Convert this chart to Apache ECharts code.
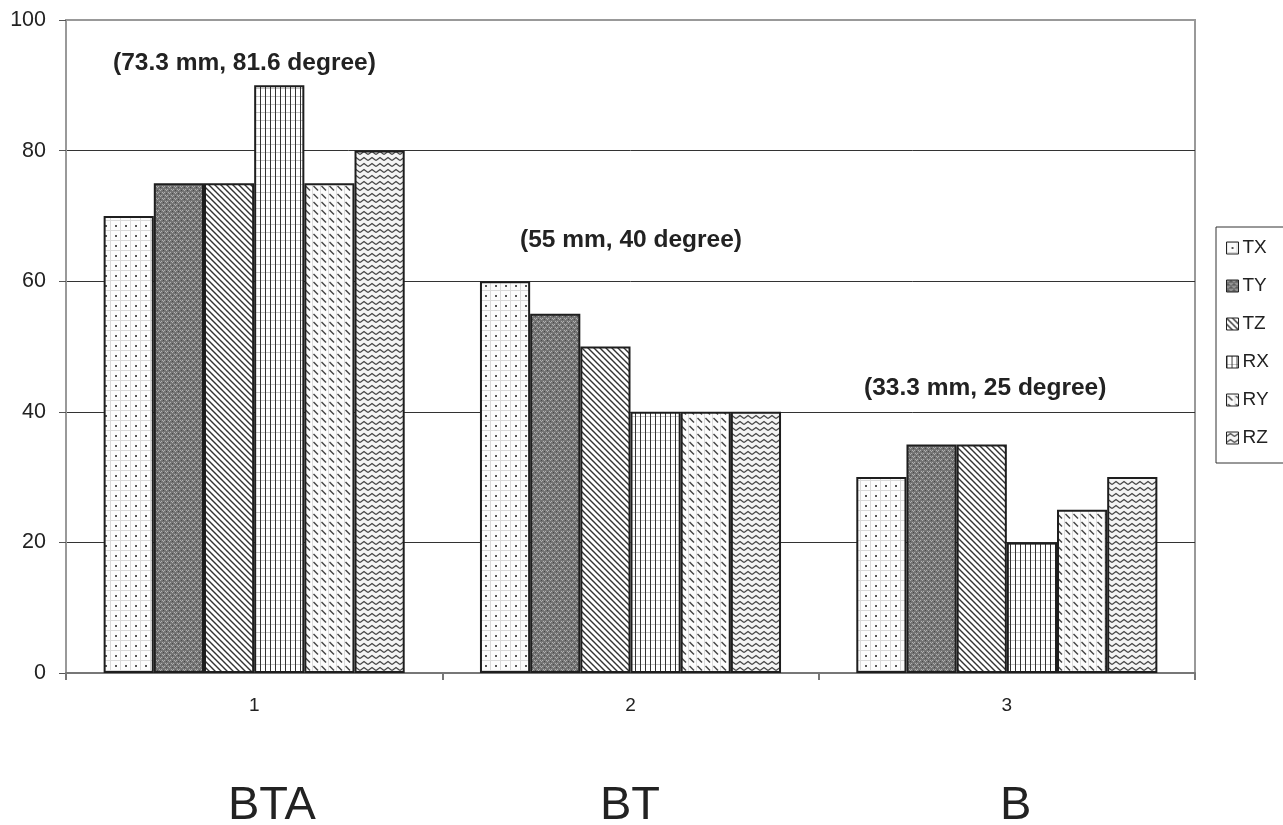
<!DOCTYPE html>
<html>
<head>
<meta charset="utf-8">
<script src="https://cdn.jsdelivr.net/npm/echarts@6/dist/echarts.min.js"></script>
<style>
html,body{margin:0;padding:0;background:#fff;}
#chart{width:1283px;height:825px;}
</style>
</head>
<body>
<div id="chart"></div>
<script>
// ---- data ----
const categories = ['1', '2', '3'];
const groupNames = ['BTA', 'BT', 'B'];
const seriesNames = ['TX', 'TY', 'TZ', 'RX', 'RY', 'RZ'];
const TX = [70, 60, 30];
const TY = [75, 55, 35];
const TZ = [75, 50, 35];
const RX = [90, 40, 20];
const RY = [75, 40, 25];
const RZ = [80, 40, 30];
const annotations = ['(73.3 mm, 81.6 degree)', '(55 mm, 40 degree)', '(33.3 mm, 25 degree)'];
const yTicks = [0, 20, 40, 60, 80, 100];

const FONT = "'Liberation Sans', Arial, sans-serif";

// ---- patterns ----
function tile(w, h, draw) {
  const c = document.createElement('canvas');
  c.width = w; c.height = h;
  const g = c.getContext('2d');
  draw(g, w, h);
  return { image: c, repeat: 'repeat' };
}
const patTX = tile(10, 10, (g, w, h) => {
  g.fillStyle = '#fbfbfb'; g.fillRect(0, 0, w, h);
  g.fillStyle = '#d8d8d8'; g.fillRect(0, 0, w, 1); g.fillRect(0, 0, 1, h);
  g.fillStyle = '#555'; g.fillRect(5, 5, 2, 2);
});
const patTY = tile(6, 6, (g, w, h) => {
  g.fillStyle = '#747474'; g.fillRect(0, 0, w, h);
  g.fillStyle = '#b0b0b0';
  g.fillRect(0, 0, 1, 1); g.fillRect(2, 0, 1, 1); g.fillRect(1, 1, 1, 1);
  g.fillRect(3, 3, 1, 1); g.fillRect(5, 3, 1, 1); g.fillRect(4, 4, 1, 1);
  g.fillStyle = '#4a4a4a';
  g.fillRect(4, 1, 1, 1); g.fillRect(1, 4, 1, 1);
});
const patTZ = tile(6, 6, (g, w, h) => {
  g.fillStyle = '#fff'; g.fillRect(0, 0, w, h);
  g.strokeStyle = '#333'; g.lineWidth = 1.4;
  g.beginPath();
  g.moveTo(-1, -1); g.lineTo(w + 1, h + 1);
  g.moveTo(-1, h - 1); g.lineTo(1, h + 1);
  g.moveTo(w - 1, -1); g.lineTo(w + 1, 1);
  g.stroke();
});
const patRX = tile(5, 8, (g, w, h) => {
  g.fillStyle = '#fff'; g.fillRect(0, 0, w, h);
  g.fillStyle = '#c4c4c4'; g.fillRect(0, 0, w, 1);
  g.fillStyle = '#333'; g.fillRect(0, 0, 1, h);
});
const patRY = tile(8, 8, (g, w, h) => {
  g.fillStyle = '#fcfcfc'; g.fillRect(0, 0, w, h);
  g.fillStyle = '#dcdcdc'; g.fillRect(0, 0, 1, h);
  g.strokeStyle = '#444'; g.lineWidth = 1.4;
  g.beginPath(); g.moveTo(1.5, 2); g.lineTo(6, 6.5); g.stroke();
});
const patRZ = tile(8, 6, (g, w, h) => {
  g.fillStyle = '#f4f4f4'; g.fillRect(0, 0, w, h);
  g.strokeStyle = '#444'; g.lineWidth = 1.3;
  g.beginPath();
  g.moveTo(0, 4.5); g.lineTo(4, 1.5); g.lineTo(8, 4.5);
  g.stroke();
});
const patterns = [patTX, patTY, patTZ, patRX, patRY, patRZ];
const values = [TX, TY, TZ, RX, RY, RZ];

const chart = echarts.init(document.getElementById('chart'), null, { renderer: 'canvas' });

const series = seriesNames.map((name, i) => ({
  name: name,
  type: 'bar',
  data: values[i],
  barGap: '0%',
  barCategoryGap: '20%',
  itemStyle: { color: patterns[i], borderColor: '#1e1e1e', borderWidth: 2 },
  emphasis: { disabled: true },
  animation: false
}));

chart.setOption({
  animation: false,
  backgroundColor: '#ffffff',
  textStyle: { fontFamily: FONT },
  grid: {
    left: 66, right: 88, top: 20, bottom: 152,
    show: true, borderColor: '#999', borderWidth: 2, backgroundColor: 'transparent'
  },
  legend: {
    orient: 'vertical',
    left: 1216, top: 227,
    data: seriesNames.map(n => ({ name: n, icon: 'rect' })),
    itemWidth: 12, itemHeight: 12,
    itemGap: 18,
    padding: [11, 20, 15, 10],
    borderColor: '#333', borderWidth: 1,
    textStyle: { fontSize: 19, color: '#222', fontFamily: FONT, lineHeight: 20, padding: [0, 0, 0, -1] },
    itemStyle: { borderColor: '#222', borderWidth: 1 },
    selectedMode: false
  },
  xAxis: {
    type: 'category',
    data: categories,
    axisLine: { lineStyle: { color: '#777', width: 2 } },
    axisTick: { show: true, length: 7, lineStyle: { color: '#777', width: 2 } },
    axisLabel: { fontSize: 19, color: '#222', margin: 23, fontFamily: FONT },
    splitLine: { show: false }
  },
  yAxis: {
    type: 'value',
    min: 0, max: 100, interval: 20,
    axisLine: { show: true, lineStyle: { color: '#999', width: 2 } },
    axisTick: { show: true, length: 7, lineStyle: { color: '#555', width: 1 } },
    axisLabel: { fontSize: 21.5, color: '#222', margin: 20, fontFamily: FONT },
    splitLine: { show: true, lineStyle: { color: ['#333', '#333', '#333', '#333', '#333', '#999'], width: 1 } }
  },
  graphic: [
    { type: 'text', left: 113, top: 51, style: { text: annotations[0], font: "bold 24.5px " + FONT, fill: '#222' }, z: 100 },
    { type: 'text', left: 520, top: 228, style: { text: annotations[1], font: "bold 24.5px " + FONT, fill: '#222' }, z: 100 },
    { type: 'text', left: 864, top: 376, style: { text: annotations[2], font: "bold 24.5px " + FONT, fill: '#222' }, z: 100 },
    { type: 'text', left: 228, top: 783, style: { text: groupNames[0], font: "47px " + FONT, fill: '#222' } },
    { type: 'text', left: 600, top: 783, style: { text: groupNames[1], font: "47px " + FONT, fill: '#222' } },
    { type: 'text', left: 1000, top: 783, style: { text: groupNames[2], font: "47px " + FONT, fill: '#222' } }
  ],
  series: series
});
</script>
</body>
</html>
